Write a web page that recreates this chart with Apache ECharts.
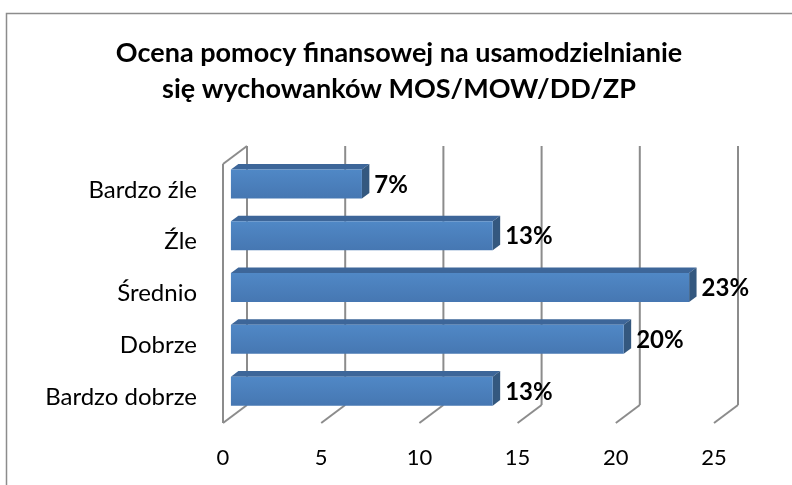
<!DOCTYPE html>
<html>
<head>
<meta charset="utf-8">
<title>Ocena pomocy finansowej</title>
<script src="https://cdn.jsdelivr.net/npm/echarts@6/dist/echarts.min.js"></script>
<style>
    html, body { margin: 0; padding: 0; background: #fff; }
    #chart { width: 792px; height: 485px; }
</style>
</head>
<body>
<div id="chart"></div>
<script>
    // dane
    var categories = ['Bardzo źle', 'Źle', 'Średnio', 'Dobrze', 'Bardzo dobrze'];
    var values = [6.67, 13.33, 23.33, 20, 13.33];
    var xTicks = [0, 5, 10, 15, 20, 25];

    var FONT = 'Lato, "Open Sans", sans-serif';
    var DX = 24, DY = -18;       // przesunięcie tylnej ściany (efekt 3D)
    var D1 = 0.33, D2 = 0.64;    // głębokość słupka

    var chart = echarts.init(document.getElementById('chart'));

    function gridItem(params, api) {
        var cs = params.coordSys;
        var x = api.coord([api.value(0), 0])[0];
        var top = cs.y, bottom = cs.y + cs.height;
        var ls = { stroke: '#8c8c8c', lineWidth: 2 };
        var kids = [
            { type: 'line', shape: { x1: x + DX, y1: top + DY, x2: x + DX, y2: bottom + DY }, style: ls },
            { type: 'line', shape: { x1: x, y1: bottom, x2: x + DX, y2: bottom + DY }, style: ls }
        ];
        if (params.dataIndex === 0) {
            kids.push({ type: 'line', shape: { x1: x, y1: top, x2: x, y2: bottom }, style: ls });
            kids.push({ type: 'line', shape: { x1: x, y1: top, x2: x + DX, y2: top + DY }, style: ls });
        }
        return { type: 'group', children: kids };
    }

    function barItem(params, api) {
        var v = api.value(0);
        var p0 = api.coord([0, api.value(1)]);
        var p1 = api.coord([v, api.value(1)]);
        var band = api.size([0, 1])[1];
        var h = band * 0.56;
        var x0 = p0[0] + DX * D1, x1 = p1[0] + DX * D1;
        var yc = p0[1] + DY * D1;
        var yt = yc - h / 2, yb = yc + h / 2;
        var ox = DX * (D2 - D1), oy = DY * (D2 - D1);
        return {
            type: 'group',
            children: [
                { type: 'polygon', shape: { points: [[x0, yt], [x1, yt], [x1 + ox, yt + oy], [x0 + ox, yt + oy]] },
                  style: { fill: '#3d6699' } },
                { type: 'polygon', shape: { points: [[x1, yt], [x1 + ox, yt + oy], [x1 + ox, yb + oy], [x1, yb]] },
                  style: { fill: '#34587f' } },
                { type: 'rect', shape: { x: x0, y: yt, width: x1 - x0, height: h },
                  style: { fill: new echarts.graphic.LinearGradient(0, 0, 0, 1, [
                      { offset: 0, color: '#5088c6' }, { offset: 1, color: '#4677b2' }]) } },
                { type: 'text', x: x1 + ox + 5, y: yc + 1,
                  style: { text: Math.round(v) + '%', font: 'bold 24px ' + FONT, fill: '#000',
                           textAlign: 'left', textVerticalAlign: 'middle' } }
            ]
        };
    }

    var option = {
        animation: false,
        graphic: [
            { type: 'rect', shape: { x: 6.5, y: 13.5, width: 820, height: 520 },
              style: { fill: 'none', stroke: '#8c8c8c', lineWidth: 1.5 }, silent: true },
            { type: 'text', x: 399, y: 53,
              style: { text: 'Ocena pomocy finansowej na usamodzielnianie', font: 'bold 27px ' + FONT,
                       fill: '#000', textAlign: 'center', textVerticalAlign: 'middle' } },
            { type: 'text', x: 399, y: 89,
              style: { text: 'się wychowanków MOS/MOW/DD/ZP', font: 'bold 27px ' + FONT,
                       fill: '#000', textAlign: 'center', textVerticalAlign: 'middle' } }
        ],
        grid: { left: 223, right: 78, top: 164, bottom: 62 },
        xAxis: {
            type: 'value', min: 0, max: 25, interval: 5,
            axisLine: { show: false }, axisTick: { show: false }, splitLine: { show: false },
            axisLabel: { color: '#000', fontSize: 22, fontFamily: FONT, margin: 24 }
        },
        yAxis: {
            type: 'category', data: categories, inverse: true,
            axisLine: { show: false }, axisTick: { show: false },
            axisLabel: { color: '#000', fontSize: 24, fontFamily: FONT, margin: 26 }
        },
        series: [
            { type: 'custom', renderItem: gridItem, encode: { x: 0, y: 1 }, z: 1,
              data: xTicks.map(function (t) { return [t, 0]; }) },
            { type: 'custom', renderItem: barItem, encode: { x: 0, y: 1 }, z: 2,
              data: values.map(function (v, i) { return [v, i]; }) }
        ]
    };

    chart.setOption(option);
</script>
</body>
</html>
